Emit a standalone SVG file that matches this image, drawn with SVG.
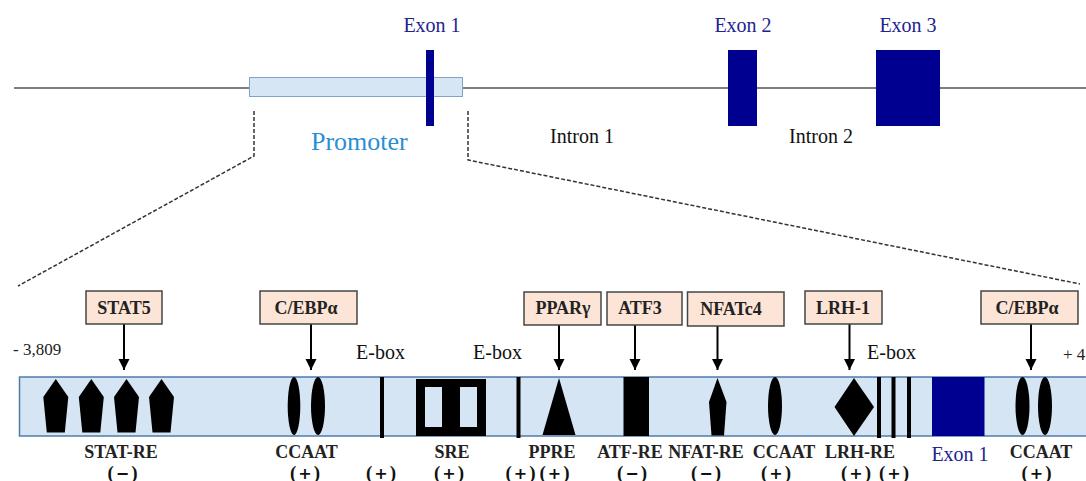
<svg xmlns="http://www.w3.org/2000/svg" width="1086" height="481" viewBox="0 0 1086 481">
<defs>
<style>
.t{font-family:"Liberation Serif","Times New Roman",serif;}
.lbl{font-family:"Liberation Serif","Times New Roman",serif;font-weight:bold;font-size:18px;fill:#222;text-anchor:middle;}
.sign{font-family:"Liberation Serif","Times New Roman",serif;font-weight:bold;font-size:19px;fill:#111;text-anchor:middle;}
.sym{font-family:"DejaVu Sans",sans-serif;font-weight:bold;font-size:16px;}
.reg{font-family:"Liberation Serif","Times New Roman",serif;font-size:20px;fill:#111;}
.exon{fill:#000090;}
.exlbl{font-family:"Liberation Serif","Times New Roman",serif;font-size:20px;fill:#23238f;text-anchor:middle;}
.box{fill:#fce4d6;stroke:#454545;stroke-width:1.5;}
.arrow{stroke:#000;stroke-width:2;fill:none;marker-end:url(#ah);}
.dash{stroke:#333;stroke-width:1.5;fill:none;stroke-dasharray:4 2;}
.blk{fill:#000;}
.ebox{stroke:#000;stroke-width:4;}
</style>
<marker id="ah" markerUnits="userSpaceOnUse" markerWidth="12" markerHeight="12" refX="11" refY="5.5" orient="auto">
<path d="M0,0 L11,5.5 L0,11 z" fill="#000"/>
</marker>
<path id="pent" d="M0,0 L12.5,18 L9,53.5 L-9,53.5 L-12.5,18 z"/>
</defs>

<!-- gene overview -->
<g id="gene">
<line x1="14" y1="88" x2="1086" y2="88" stroke="#555" stroke-width="1.5"/>
<rect x="249.5" y="77.5" width="213" height="19" fill="#d6e6f4" stroke="#7fa3c9" stroke-width="1"/>
<rect class="exon" x="426" y="50" width="8" height="76"/>
<rect class="exon" x="728" y="50" width="29" height="76"/>
<rect class="exon" x="876" y="50" width="64" height="76"/>
<text class="exlbl" x="432" y="32">Exon 1</text>
<text class="exlbl" x="743" y="32">Exon 2</text>
<text class="exlbl" x="908" y="32">Exon 3</text>
<text class="t" x="311" y="150" font-size="26" fill="#2a8fd2">Promoter</text>
<text class="reg" x="550" y="143">Intron 1</text>
<text class="reg" x="789" y="143">Intron 2</text>
</g>

<!-- zoom connectors -->
<g id="connectors">
<polyline class="dash" points="254,111 254,156 18,286"/>
<polyline class="dash" points="468,111 468,160 1080,284"/>
<line class="arrow" x1="124" y1="324" x2="124" y2="370"/>
<line class="arrow" x1="311" y1="324" x2="311" y2="370"/>
<line class="arrow" x1="559" y1="325" x2="559" y2="370"/>
<line class="arrow" x1="635" y1="325" x2="635" y2="370"/>
<line class="arrow" x1="717.5" y1="326" x2="717.5" y2="370"/>
<line class="arrow" x1="849.5" y1="324" x2="849.5" y2="370"/>
<line class="arrow" x1="1031" y1="324" x2="1031" y2="370"/>
</g>

<!-- promoter band -->
<g id="band">
<rect x="19.5" y="377" width="1080" height="59" fill="#d6e5f3" stroke="#4d7cab" stroke-width="1.5"/>
<text class="t" x="13" y="355" font-size="17" fill="#222">- 3,809</text>
<text class="t" x="1063" y="360" font-size="17" fill="#222">+ 4</text>
</g>

<g id="stat5">
<rect class="box" x="86" y="291" width="76" height="33"/>
<text class="lbl" x="124" y="314">STAT5</text>
</g>
<g id="cebpa1">
<rect class="box" x="260" y="291" width="97" height="33"/>
<text class="lbl" x="306" y="314">C/EBPα</text>
</g>
<g id="pparg">
<rect class="box" x="524" y="292" width="77" height="33"/>
<text class="lbl" x="563" y="314">PPARγ</text>
</g>
<g id="atf3">
<rect class="box" x="607" y="292" width="75" height="33"/>
<text class="lbl" x="640" y="314">ATF3</text>
</g>
<g id="nfatc4">
<rect class="box" x="687.5" y="292" width="96.5" height="34"/>
<text class="lbl" x="731" y="315">NFATc4</text>
</g>
<g id="lrh1">
<rect class="box" x="805" y="291" width="77" height="33"/>
<text class="lbl" x="843" y="314">LRH-1</text>
</g>
<g id="cebpa2">
<rect class="box" x="981" y="291" width="97" height="33"/>
<text class="lbl" x="1027" y="314">C/EBPα</text>
</g>

<g id="stat-re">
<use href="#pent" x="55.8" y="379"/>
<use href="#pent" x="91.3" y="379"/>
<use href="#pent" x="126.5" y="379"/>
<use href="#pent" x="161.5" y="379"/>
<text class="lbl" x="121" y="458">STAT-RE</text>
<text class="sign" x="122.5" y="479">(<tspan class="sym" dx="2">−</tspan><tspan dx="2">)</tspan></text>
</g>

<g id="ccaat1">
<ellipse class="blk" cx="294" cy="406" rx="6.3" ry="29"/>
<ellipse class="blk" cx="318" cy="406" rx="7" ry="29"/>
<text class="lbl" x="306.5" y="458">CCAAT</text>
<text class="sign" x="305" y="479">(<tspan class="sym" dx="2">+</tspan><tspan dx="2">)</tspan></text>
</g>

<g id="ebox1">
<line class="ebox" x1="382" y1="377" x2="382" y2="438"/>
<text class="reg" x="356" y="359">E-box</text>
<text class="sign" x="381" y="479">(<tspan class="sym" dx="2">+</tspan><tspan dx="2">)</tspan></text>
</g>

<g id="sre">
<path class="blk" fill-rule="evenodd" d="M416,379 H451 V436 H416 Z M425,387 V427 H442 V387 Z"/>
<path class="blk" fill-rule="evenodd" d="M451,379 H486 V436 H451 Z M460,387 V427 H477 V387 Z"/>
<text class="lbl" x="452" y="458">SRE</text>
<text class="sign" x="449" y="479">(<tspan class="sym" dx="2">+</tspan><tspan dx="2">)</tspan></text>
</g>

<g id="ebox2">
<line class="ebox" x1="518.5" y1="377" x2="518.5" y2="438"/>
<text class="reg" x="473" y="359">E-box</text>
<text class="sign" x="520.5" y="479">(<tspan class="sym" dx="2">+</tspan><tspan dx="2">)</tspan></text>
</g>

<g id="ppre">
<path class="blk" d="M559,378 L575.5,435 L542.5,435 z"/>
<text class="lbl" x="552" y="458">PPRE</text>
<text class="sign" x="554.5" y="479">(<tspan class="sym" dx="2">+</tspan><tspan dx="2">)</tspan></text>
</g>

<g id="atf-re">
<rect class="blk" x="623.5" y="377" width="25.5" height="59"/>
<text class="lbl" x="630" y="458">ATF-RE</text>
<text class="sign" x="632" y="479">(<tspan class="sym" dx="2">−</tspan><tspan dx="2">)</tspan></text>
</g>

<g id="nfat-re">
<path class="blk" d="M717.5,378 L726.5,402 L724,435.5 L711.5,435.5 L709,402 z"/>
<text class="lbl" x="706" y="458">NFAT-RE</text>
<text class="sign" x="706" y="479">(<tspan class="sym" dx="2">−</tspan><tspan dx="2">)</tspan></text>
</g>

<g id="ccaat2">
<ellipse class="blk" cx="775" cy="406" rx="7" ry="29"/>
<text class="lbl" x="784" y="458">CCAAT</text>
<text class="sign" x="776" y="479">(<tspan class="sym" dx="2">+</tspan><tspan dx="2">)</tspan></text>
</g>

<g id="lrh-re">
<path class="blk" d="M854,378 L874,407 L854,436 L834.5,407 z"/>
<text class="lbl" x="860" y="458">LRH-RE</text>
<text class="sign" x="856" y="479">(<tspan class="sym" dx="2">+</tspan><tspan dx="2">)</tspan></text>
</g>

<g id="ebox3">
<line class="ebox" x1="879" y1="377" x2="879" y2="438"/>
<line class="ebox" x1="893.5" y1="377" x2="893.5" y2="438"/>
<line class="ebox" x1="909" y1="377" x2="909" y2="438"/>
<text class="reg" x="867" y="359">E-box</text>
<text class="sign" x="894" y="479">(<tspan class="sym" dx="2">+</tspan><tspan dx="2">)</tspan></text>
</g>

<g id="exon1-band">
<rect class="exon" x="932" y="377" width="52.5" height="59"/>
<text class="exlbl" x="960" y="461">Exon 1</text>
</g>

<g id="ccaat3">
<ellipse class="blk" cx="1022.5" cy="406" rx="7" ry="29"/>
<ellipse class="blk" cx="1045" cy="406" rx="7" ry="29"/>
<text class="lbl" x="1041" y="458">CCAAT</text>
<text class="sign" x="1036.5" y="479">(<tspan class="sym" dx="2">+</tspan><tspan dx="2">)</tspan></text>
</g>
</svg>
